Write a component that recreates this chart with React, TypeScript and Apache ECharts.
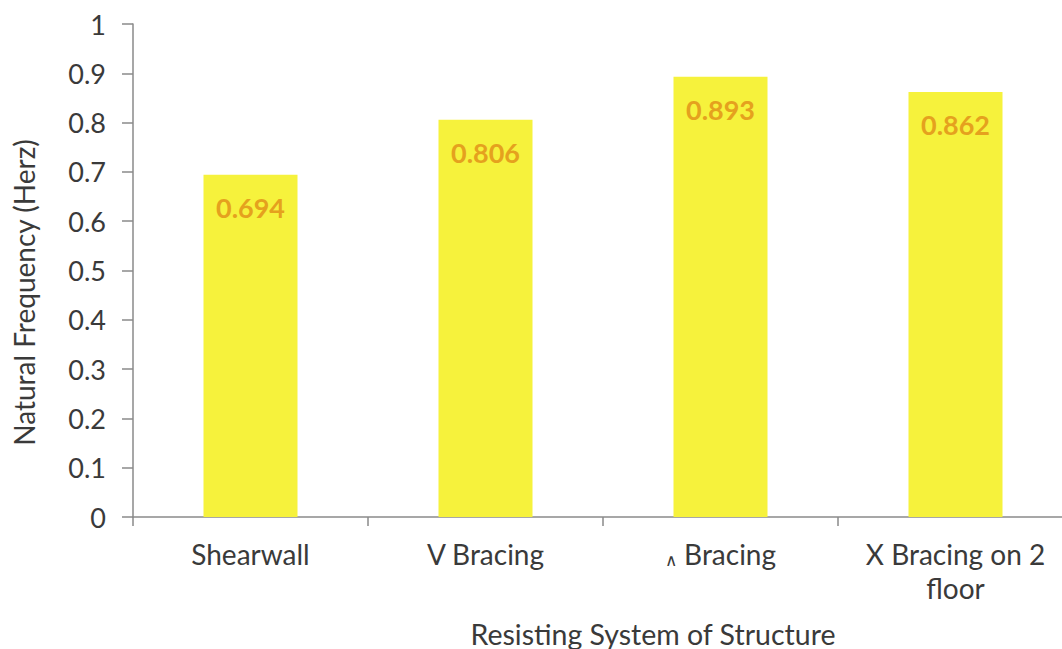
import React, { useEffect, useRef } from "react";
import * as echarts from "echarts";

const categories = ["Shearwall", "V Bracing", "∧ Bracing", "X Bracing on 2\nfloor"];
const frequencies = [0.694, 0.806, 0.893, 0.862];
const yTicks = [0, 0.1, 0.2, 0.3, 0.4, 0.5, 0.6, 0.7, 0.8, 0.9, 1];

const FONT = "Lato, 'Open Sans', sans-serif";
const TEXT = "#3a3a3a";

export default function App() {
  const ref = useRef<HTMLDivElement>(null);
  useEffect(() => {
    if (!ref.current) return;
    const chart = echarts.init(ref.current, null, { renderer: "svg" });
    chart.setOption({
      animation: false,
      backgroundColor: "#ffffff",
      grid: { left: 133, top: 24, width: 940, height: 493, containLabel: false, outerBoundsMode: "none" },
      xAxis: {
        type: "category",
        data: categories,
        name: "Resisting System of Structure",
        nameLocation: "middle",
        nameGap: 102,
        nameTextStyle: { fontFamily: FONT, fontSize: 28.5, color: TEXT, padding: [0, 0, 0, 100] },
        axisLine: { lineStyle: { color: "#8a8a8a", width: 1.5 } },
        axisTick: { show: true, interval: 0, alignWithLabel: false, length: 9, lineStyle: { color: "#8a8a8a", width: 1.5 } },
        axisLabel: {
          interval: 0,
          hideOverlap: false,
          fontFamily: FONT,
          fontSize: 28,
          color: TEXT,
          margin: 20,
          lineHeight: 34,
          formatter: (v: string) => (v.startsWith("∧") ? "{s|∧}" + v.slice(1) : v),
          rich: { s: { fontSize: 17, fontFamily: FONT, color: TEXT, padding: [10, 0, 0, 0] } },
        },
      },
      yAxis: {
        type: "value",
        min: 0,
        max: 1,
        interval: 0.1,
        name: "Natural Frequency (Herz)",
        nameLocation: "middle",
        nameGap: 95,
        nameRotate: 90,
        nameTextStyle: { fontFamily: FONT, fontSize: 28, color: TEXT, padding: [0, 44, 0, 0] },
        axisLine: { show: true, lineStyle: { color: "#8a8a8a", width: 1.5 } },
        axisTick: { show: true, length: 11, lineStyle: { color: "#8a8a8a", width: 1.5 } },
        splitLine: { show: false },
        axisLabel: {
          fontFamily: FONT,
          fontSize: 27,
          color: TEXT,
          margin: 27,
          formatter: (v: number) => {
            const t = yTicks.find((x) => Math.abs(x - v) < 1e-9);
            return t === undefined ? "" : String(Number(t.toFixed(1)));
          },
        },
      },
      series: [
        {
          type: "bar",
          data: frequencies,
          barWidth: "40%",
          itemStyle: { color: "#f6f23c" },
          label: {
            show: true,
            position: "insideTop",
            distance: 19,
            fontFamily: FONT,
            fontSize: 27,
            fontWeight: "bold",
            color: "#e5a11e",
            formatter: (p: any) => p.value.toFixed(3),
          },
        },
      ],
    });
    return () => chart.dispose();
  }, []);
  return <div ref={ref} style={{ width: 1062, height: 649, position: "absolute", left: 0, top: 0 }} />;
}
